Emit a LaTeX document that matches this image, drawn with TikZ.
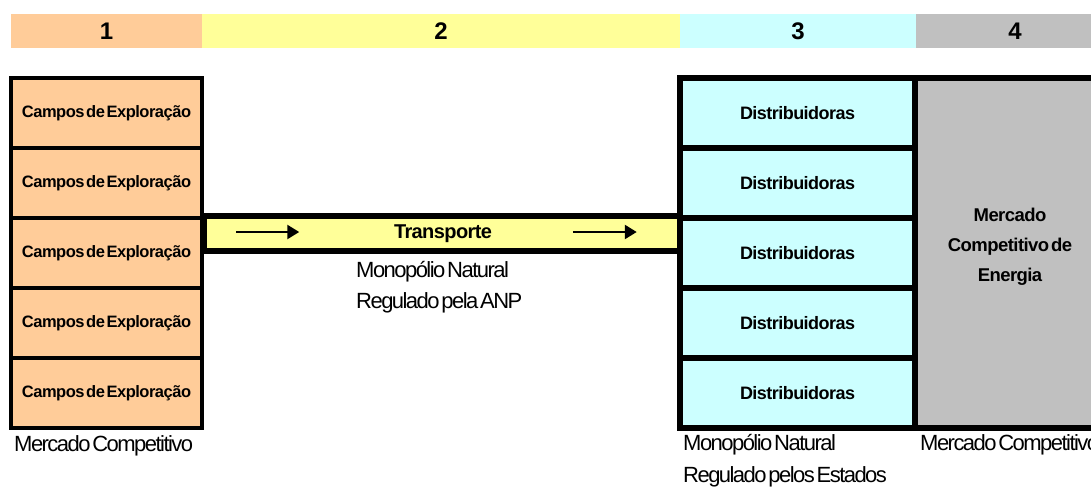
\documentclass[tikz,border=0pt]{standalone}
\usepackage{fontspec}
\setmainfont{Liberation Sans}
\newfontfamily\tightfont{Liberation Sans}[LetterSpace=-7,WordSpace=0.4,BoldFeatures={LetterSpace=-3}]
\usetikzlibrary{positioning,arrows.meta}

\begin{document}
\begin{tikzpicture}[x=1pt,y=-1pt,
  head/.style={minimum height=34pt,inner sep=0pt,outer sep=0pt,font=\tightfont\bfseries\fontsize{24}{28}\selectfont},
  campo/.style={draw,line width=3.5pt,fill=peach,minimum width=191pt,minimum height=70pt,inner sep=0pt,font=\tightfont\bfseries\fontsize{16.5}{19}\selectfont},
  distrib/.style={draw,line width=6pt,fill=aqua,minimum width=235pt,minimum height=70pt,inner sep=0pt,font=\tightfont\bfseries\fontsize{18}{21}\selectfont},
  note/.style={anchor=base west,inner sep=0pt,font=\tightfont\fontsize{22}{26}\selectfont},
  flow/.style={line width=2.5pt,-{Triangle[length=12pt,width=14pt]}}]
\definecolor{peach}{HTML}{FFCC99}
\definecolor{lemon}{HTML}{FFFF99}
\definecolor{aqua}{HTML}{CCFFFF}
\definecolor{silver}{HTML}{C0C0C0}

% page
\useasboundingbox (0,0) rectangle (1091,490);
\clip (0,0) rectangle (1091,490);

% Header row
\node[head,fill=peach,minimum width=191pt] (h1) at (106.5,31) {1};
\node[head,fill=lemon,minimum width=478pt,right=0pt of h1] (h2) {2};
\node[head,fill=aqua,minimum width=236pt,right=0pt of h2] (h3) {3};
\node[head,fill=silver,minimum width=198pt,right=0pt of h3] (h4) {4};

% Transport
\node[draw,line width=5.5pt,fill=lemon,minimum width=478pt,minimum height=35pt,inner sep=0pt,
  font=\tightfont\bfseries\fontsize{20}{23}\selectfont] (transporte) at (443,233.5) {Transporte};
\coordinate (in1) at ([xshift=35pt,yshift=1.5pt]transporte.west);
\coordinate (in2) at ([xshift=98pt,yshift=1.5pt]transporte.west);
\coordinate (out1) at ([xshift=-112pt,yshift=1.5pt]transporte.east);
\coordinate (out2) at ([xshift=-48pt,yshift=1.5pt]transporte.east);
\draw[flow] (in1) -- (in2);
\draw[flow] (out1) -- (out2);

% Energy market
\node[draw,line width=6pt,fill=silver,minimum width=190pt,minimum height=350pt,inner sep=0pt] (mercado) at (1010,253) {};
\node[align=center,inner sep=0pt,font=\tightfont\bfseries\fontsize{18.5}{30}\selectfont] (mercadotxt) at (1010,247)
  {Mercado\\Competitivo de\\Energia};

% Distribuidoras and Campos
\foreach \i in {1,...,5}{
  \node[distrib] (dist\i) at (797.5,{43+70*\i}) {Distribuidoras};
  \node[campo] (campo\i) at (106.5,{43+70*\i}) {Campos de Exploração};
}

% Notes
\node[note] (comp1) at (14,451) {Mercado Competitivo};
\node[note] (anp1) at (356,277) {Monopólio Natural};
\node[note] (anp2) at (356,308) {Regulado pela ANP};
\node[note] (est1) at (683,450) {Monopólio Natural};
\node[note] (est2) at (683,482) {Regulado pelos Estados};
\node[note] (comp2) at (920,450) {Mercado Competitivo};
\end{tikzpicture}
\end{document}
